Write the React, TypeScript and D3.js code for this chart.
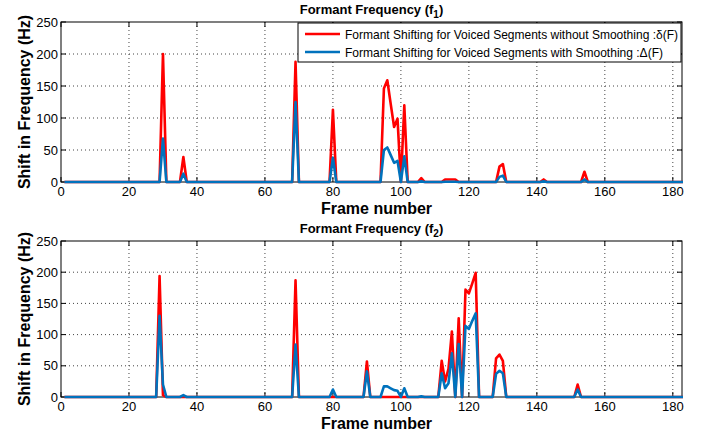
import React from 'react';
import * as d3 from 'd3';

// frame numbers run 1..183, values only listed where the shift is not zero
const frameCount = 183;
const yTicks = [0, 50, 100, 150, 200, 250];
const xTicks = [0, 20, 40, 60, 80, 100, 120, 140, 160, 180];

const f1Frames = [30, 36, 69, 80, 95, 96, 97, 98, 99, 101, 106, 113, 114, 115, 116, 129, 130, 142, 154];
const f1Without = [200, 39, 188, 113, 146, 159, 122, 86, 99, 120, 6, 4, 4, 4, 4, 24, 28, 4, 16];
const f1With = [68, 13, 125, 38, 50, 54, 42, 30, 33, 40, 1, 0.5, 0.5, 0.5, 0.5, 8, 10, 1, 4];

const f2Frames = [29, 30, 36, 69, 80, 90, 95, 96, 97, 98, 99, 101, 106, 112, 113, 114, 115, 117, 119, 120, 121, 122, 128, 129, 130, 152];
const f2Without = [194, 3, 0, 187, 0, 57, 0, 0, 0, 0, 0, 0, 0, 58, 25, 45, 105, 126, 172, 166, 182, 199, 62, 68, 58, 20];
const f2With = [130, 20, 3, 84, 12, 41, 17, 17, 14, 11, 10, 14, 1, 38, 14, 22, 70, 85, 114, 109, 122, 134, 37, 42, 38, 12];

const legendLabels = [
  'Formant Shifting for Voiced Segments without Smoothing :\u03b4(F)',
  'Formant Shifting for Voiced Segments with Smoothing :\u0394(F)',
];
const legendWidths = [333, 318];

const RED = '#ff0000';
const BLUE = '#0072bd';
const FONT = "'Liberation Sans', Arial, Helvetica, sans-serif";

const toSeries = (frames: number[], vals: number[]) =>
  d3.range(1, frameCount + 1).map((f) => {
    const i = frames.indexOf(f);
    return [f, i < 0 ? 0 : vals[i]] as [number, number];
  });

type PanelProps = {
  top: number;
  height: number;
  sub: string;
  red: [number, number][];
  blue: [number, number][];
  legend?: boolean;
};

const left = 61;
const right = 682;

const Panel = ({ top, height, sub, red, blue, legend }: PanelProps) => {
  const x = d3.scaleLinear().domain([0, 182.7]).range([left, right]);
  const y = d3.scaleLinear().domain([0, 250]).range([top + height, top]);
  const line = d3
    .line<[number, number]>()
    .x((d) => x(d[0]))
    .y((d) => y(d[1]));
  const bottom = top + height;
  const mid = (left + right) / 2;

  return (
    <g fontFamily={FONT}>
      {/* grid */}
      {xTicks.slice(1).map((t) => (
        <line key={'gx' + t} x1={x(t)} x2={x(t)} y1={top} y2={bottom} stroke="#444" strokeDasharray="1,3" />
      ))}
      {yTicks.slice(1, -1).map((t) => (
        <line key={'gy' + t} x1={left} x2={right} y1={y(t)} y2={y(t)} stroke="#444" strokeDasharray="1,3" />
      ))}
      <rect x={left} y={top} width={right - left} height={height} fill="none" stroke="#000" strokeWidth={1} />
      {xTicks.map((t) => (
        <g key={'tx' + t}>
          <line x1={x(t)} x2={x(t)} y1={bottom} y2={bottom - 5} stroke="#000" />
          <line x1={x(t)} x2={x(t)} y1={top} y2={top + 5} stroke="#000" />
          <text x={x(t)} y={bottom + 14} textAnchor="middle" fontSize={13}>
            {t}
          </text>
        </g>
      ))}
      {yTicks.map((t) => (
        <g key={'ty' + t}>
          <line x1={left} x2={left + 5} y1={y(t)} y2={y(t)} stroke="#000" />
          <line x1={right} x2={right - 5} y1={y(t)} y2={y(t)} stroke="#000" />
          <text x={left - 3} y={y(t) + 4.5} textAnchor="end" fontSize={13}>
            {t}
          </text>
        </g>
      ))}
      <path d={line(red) || ''} fill="none" stroke={RED} strokeWidth={2.6} strokeLinejoin="round" />
      <path d={line(blue) || ''} fill="none" stroke={BLUE} strokeWidth={2.6} strokeLinejoin="round" />
      <text x={mid} y={top - 8} textAnchor="middle" fontSize={13} fontWeight="bold">
        Formant Frequency (f
        <tspan fontSize={10} dy={4}>
          {sub}
        </tspan>
        <tspan dy={-4}>)</tspan>
      </text>
      <text x={mid + 5} y={bottom + 31.5} textAnchor="middle" fontSize={16} fontWeight="bold">
        Frame number
      </text>
      <text
        transform={`translate(30,${(top + bottom) / 2}) rotate(-90)`}
        textAnchor="middle"
        fontSize={16}
        fontWeight="bold"
      >
        Shift in Frequency (Hz)
      </text>
      {legend && (
        <g>
          <rect x={298} y={23} width={383} height={39} fill="#fff" stroke="#000" />
          {legendLabels.map((lbl, i) => (
            <g key={lbl}>
              <line x1={305} x2={340} y1={34 + i * 18} y2={34 + i * 18} stroke={i === 0 ? RED : BLUE} strokeWidth={2.6} />
              <text
                x={345}
                y={38.5 + i * 18}
                fontSize={13}
                textLength={legendWidths[i]}
                lengthAdjust="spacingAndGlyphs"
              >
                {lbl}
              </text>
            </g>
          ))}
        </g>
      )}
    </g>
  );
};

export default function App() {
  return (
    <svg width={707} height={433} style={{ position: 'absolute', left: 0, top: 0, background: '#fff' }}>
      <Panel top={22} height={160} sub="1" red={toSeries(f1Frames, f1Without)} blue={toSeries(f1Frames, f1With)} legend />
      <Panel top={241} height={156} sub="2" red={toSeries(f2Frames, f2Without)} blue={toSeries(f2Frames, f2With)} />
    </svg>
  );
}
